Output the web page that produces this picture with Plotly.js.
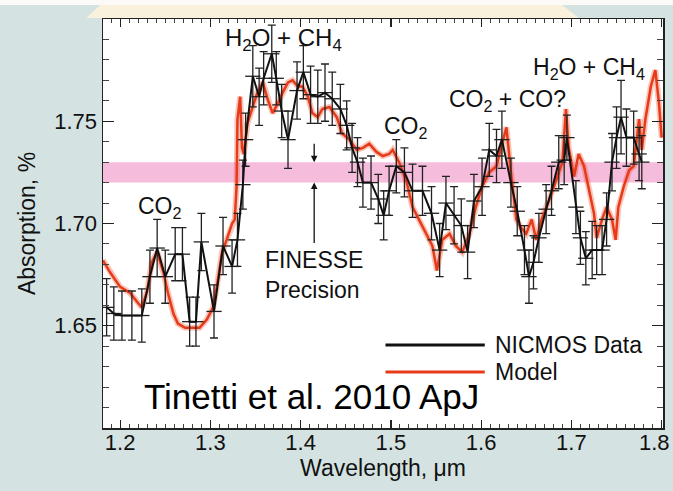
<!DOCTYPE html>
<html>
<head>
<meta charset="utf-8">
<script src="https://cdn.plot.ly/plotly-3.0.1.min.js"></script>
<style>html,body{margin:0;padding:0;background:#d4e2e2;}#chart{width:673px;height:491px;}</style>
</head>
<body>
<div id="chart"></div>
<script>
// NICMOS data (wavelength in micron, absorption in %)
const dataWave = [1.185,1.193,1.202,1.213,1.224,1.233,1.241,1.250,1.261,1.269,1.277,1.284,1.290,1.304,1.314,1.324,1.330,
  1.336,1.339,1.347,1.354,1.359,1.368,1.373,1.379,1.386,1.396,1.403,1.411,1.419,1.427,1.435,1.444,1.451,1.457,1.463,1.469,1.478,1.486,1.492,
  1.498,1.506,1.515,1.524,1.535,1.545,1.554,1.561,1.570,1.578,1.585,1.592,1.601,1.609,1.617,1.623,1.633,1.640,1.648,1.653,1.658,
  1.664,1.672,1.678,1.686,1.692,1.695,1.705,1.710,1.716,1.723,1.728,1.734,1.739,1.745,1.750,1.755,1.761,1.769,1.775,1.778];
const dataAbs = [1.659,1.656,1.655,1.655,1.655,1.674,1.688,1.674,1.685,1.685,1.652,1.652,1.691,1.657,1.689,1.679,1.692,
  1.719,1.741,1.772,1.762,1.771,1.783,1.771,1.755,1.741,1.765,1.774,1.763,1.762,1.764,1.761,1.756,1.748,1.737,1.730,1.720,1.720,1.712,1.704,
  1.716,1.728,1.725,1.716,1.716,1.705,1.687,1.710,1.704,1.699,1.686,1.711,1.718,1.736,1.733,1.741,1.720,1.706,1.687,1.674,1.681,
  1.693,1.707,1.716,1.730,1.731,1.742,1.708,1.693,1.683,1.687,1.687,1.687,1.702,1.730,1.742,1.752,1.742,1.742,1.734,1.730];
const dataErr = [0.014,0.013,0.012,0.012,0.013,0.013,0.014,0.013,0.013,0.013,0.012,0.012,0.014,0.013,0.014,0.013,0.013,
  0.012,0.013,0.015,0.014,0.013,0.014,0.013,0.013,0.014,0.014,0.013,0.014,0.013,0.014,0.013,0.012,0.012,0.012,0.012,0.012,0.013,0.012,0.012,
  0.012,0.013,0.012,0.013,0.012,0.013,0.013,0.013,0.014,0.013,0.013,0.013,0.014,0.013,0.013,0.014,0.012,0.012,0.012,0.013,0.013,
  0.012,0.012,0.012,0.013,0.012,0.011,0.013,0.013,0.013,0.014,0.012,0.012,0.013,0.014,0.015,0.018,0.014,0.013,0.013,0.013];
const binHalfWidth = 0.0085;

// Model spectrum
const modelWave = [1.181,1.189,1.200,1.211,1.220,1.224,1.230,1.235,1.241,1.248,1.253,1.259,1.264,1.272,1.280,1.288,1.296,1.303,1.307,
  1.313,1.318,1.324,1.327,1.329,1.330,1.333,1.335,1.337,1.341,1.347,1.352,1.358,1.364,1.369,1.375,1.380,1.386,1.391,1.397,1.402,1.408,
  1.413,1.419,1.424,1.432,1.440,1.446,1.454,1.462,1.469,1.476,1.484,1.491,1.498,1.502,1.509,1.517,1.524,1.531,1.539,1.546,1.551,1.557,
  1.565,1.572,1.579,1.587,1.594,1.601,1.609,1.617,1.622,1.628,1.633,1.639,1.644,1.650,1.656,1.661,1.667,1.675,1.683,1.690,1.694,1.697,
  1.703,1.708,1.714,1.719,1.725,1.728,1.734,1.739,1.745,1.749,1.752,1.758,1.764,1.769,1.775,1.778,1.782,1.788,1.793,1.797,1.800];
const modelAbs = [1.682,1.676,1.669,1.666,1.661,1.659,1.667,1.681,1.686,1.676,1.666,1.656,1.651,1.649,1.649,1.649,1.653,1.659,1.669,
  1.686,1.692,1.700,1.702,1.718,1.751,1.762,1.737,1.734,1.749,1.757,1.764,1.769,1.760,1.754,1.759,1.764,1.769,1.770,1.767,1.767,1.762,
  1.754,1.752,1.756,1.757,1.752,1.744,1.741,1.736,1.737,1.739,1.735,1.733,1.734,1.736,1.730,1.721,1.708,1.702,1.695,1.689,1.677,1.692,
  1.695,1.689,1.686,1.695,1.708,1.718,1.725,1.728,1.737,1.747,1.725,1.702,1.698,1.695,1.702,1.692,1.702,1.711,1.721,1.730,1.756,1.737,
  1.723,1.734,1.728,1.718,1.705,1.693,1.702,1.708,1.702,1.692,1.708,1.718,1.726,1.728,1.751,1.736,1.751,1.767,1.775,1.759,1.742];

// FINESSE precision band
const bandLow = 1.72, bandHigh = 1.73;

// axis ticks (the last x label sits against the right edge, drawn as a right-anchored note)
const xTickVals = [1.2, 1.3, 1.4, 1.5, 1.6, 1.7, 1.8];
const xTickText = ['1.2', '1.3', '1.4', '1.5', '1.6', '1.7', ''];
const xLastLabel = '1.8';
const yTickVals = [1.60, 1.65, 1.70, 1.75, 1.80];
const yTickText = ['', '1.65', '1.70', '1.75', ''];

const FONT = '"Liberation Sans", Arial, sans-serif';
const TXT = '#111';

const traces = [
  {x: modelWave, y: modelAbs, mode: 'lines', line: {color: 'rgba(240,90,50,0.35)', width: 6}, hoverinfo: 'skip', showlegend: false},
  {x: modelWave, y: modelAbs, mode: 'lines', line: {color: '#e63a1a', width: 2.5}, name: 'Model', showlegend: false},
  {x: dataWave, y: dataAbs, mode: 'lines', line: {color: '#111', width: 2},
   error_y: {type: 'data', array: dataErr, visible: true, color: '#222', thickness: 1.3, width: 4},
   error_x: {type: 'constant', value: binHalfWidth, visible: true, color: '#222', thickness: 1.3, width: 0},
   name: 'NICMOS Data', showlegend: false}
];

const annFont = {family: FONT, size: 23, color: TXT};
const annotations = [
  {x: 1.381, y: 1.790, xref: 'x', yref: 'y', text: 'H<sub>2</sub>O + CH<sub>4</sub>', showarrow: false, font: {family: FONT, size: 24, color: TXT}},
  {x: 1.244, y: 1.708, xref: 'x', yref: 'y', text: 'CO<sub>2</sub>', showarrow: false, font: annFont},
  {x: 1.517, y: 1.747, xref: 'x', yref: 'y', text: 'CO<sub>2</sub>', showarrow: false, font: annFont},
  {x: 1.629, y: 1.760, xref: 'x', yref: 'y', text: 'CO<sub>2</sub> + CO?', showarrow: false, font: annFont},
  {x: 1.720, y: 1.776, xref: 'x', yref: 'y', text: 'H<sub>2</sub>O + CH<sub>4</sub>', showarrow: false, font: annFont},
  {x: 1.415, y: 1.675, xref: 'x', yref: 'y', text: 'FINESSE<br>Precision', showarrow: false, font: {family: FONT, size: 23, color: TXT}, align: 'left'},
  {x: 1.415, y: bandHigh, xref: 'x', yref: 'y', ax: 0, ay: -20, text: '', showarrow: true, arrowhead: 2, arrowsize: 1, arrowwidth: 1.3, arrowcolor: '#111'},
  {x: 1.415, y: bandLow, xref: 'x', yref: 'y', ax: 0, ay: 62, text: '', showarrow: true, arrowhead: 2, arrowsize: 1, arrowwidth: 1.3, arrowcolor: '#111'},
  {x: 1.412, y: 1.6155, xref: 'x', yref: 'y', text: 'Tinetti et al. 2010 ApJ', showarrow: false, font: {family: FONT, size: 35, color: '#000'}},
  {x: 1.613, y: 1.6406, xref: 'x', yref: 'y', xanchor: 'left', text: 'NICMOS Data', showarrow: false, font: annFont},
  {x: 1.613, y: 1.6274, xref: 'x', yref: 'y', xanchor: 'left', text: 'Model', showarrow: false, font: annFont},
  {x: 1, y: 0, xref: 'paper', yref: 'paper', xanchor: 'right', yanchor: 'top', xshift: 8, yshift: -1, borderpad: 0,
   text: xLastLabel, showarrow: false, font: {family: FONT, size: 22, color: TXT}}
];

const shapes = [
  // white strip at very top and cream trapezoid
  {type: 'rect', xref: 'paper', yref: 'paper', x0: -0.2, x1: 1.02, y0: 1.034, y1: 1.05, fillcolor: '#fbfaf6', line: {width: 0}, layer: 'below'},
  {type: 'path', xref: 'paper', yref: 'paper', path: 'M -0.03 1.0025 L -0.005 1.034 L 0.82 1.034 L 0.85 1.0025 Z', fillcolor: '#f9f1dc', line: {width: 0}, layer: 'below'},
  // FINESSE precision band
  {type: 'rect', xref: 'paper', yref: 'y', x0: 0, x1: 1, y0: bandLow, y1: bandHigh, fillcolor: '#f6bcdc', line: {width: 0}, layer: 'below'},
  // legend lines
  {type: 'line', xref: 'x', yref: 'y', x0: 1.494, x1: 1.604, y0: 1.6406, y1: 1.6406, line: {color: '#111', width: 3}},
  {type: 'line', xref: 'x', yref: 'y', x0: 1.494, x1: 1.604, y0: 1.6274, y1: 1.6274, line: {color: '#e63a1a', width: 3}}
];

const layout = {
  width: 673, height: 491,
  margin: {l: 103, r: 10, t: 19, b: 63},
  paper_bgcolor: '#d4e2e2',
  plot_bgcolor: '#ffffff',
  font: {family: FONT, size: 22, color: TXT},
  showlegend: false,
  xaxis: {
    range: [1.181, 1.8015], tickvals: xTickVals, ticktext: xTickText,
    ticklabelstandoff: -6,
    ticks: 'inside', ticklen: 8, tickwidth: 1.2, tickcolor: '#222', showgrid: false, zeroline: false,
    showline: true, linecolor: '#222', linewidth: 1.5, mirror: 'allticks',
    minor: {dtick: 0.01, tick0: 1.2, ticks: 'inside', ticklen: 4, tickcolor: '#444', tickwidth: 1, showgrid: false},
    tickfont: {family: FONT, size: 22, color: TXT},
    title: {text: 'Wavelength, \u03bcm', font: {family: FONT, size: 23, color: TXT}, standoff: 6}
  },
  yaxis: {
    range: [1.60, 1.80], tickvals: yTickVals, ticktext: yTickText,
    ticks: 'inside', ticklen: 11, tickwidth: 1.2, tickcolor: '#222', showgrid: false, zeroline: false,
    showline: true, linecolor: '#222', linewidth: 1.5, mirror: 'allticks',
    minor: {dtick: 0.01, tick0: 1.6, ticks: 'inside', ticklen: 6, tickcolor: '#444', tickwidth: 1, showgrid: false},
    tickfont: {family: FONT, size: 22, color: TXT},
    title: {text: 'Absorption, %', font: {family: FONT, size: 23, color: TXT}, standoff: 12}
  },
  annotations: annotations,
  shapes: shapes
};

Plotly.newPlot('chart', traces, layout, {displayModeBar: false, staticPlot: true});
</script>
</body>
</html>
